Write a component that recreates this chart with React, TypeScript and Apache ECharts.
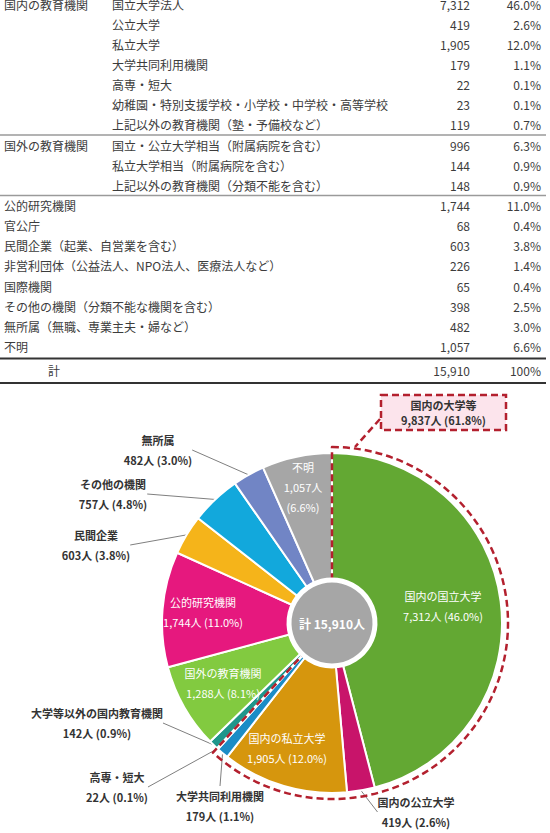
import React, { useEffect, useRef } from 'react';
import * as echarts from 'echarts';

// ---------------- data ----------------
const tableCategory = [
  '国内の教育機関', '', '', '', '', '', '',
  '国外の教育機関', '', '',
  '公的研究機関', '官公庁', '民間企業（起業、自営業を含む）',
  '非営利団体（公益法人、NPO法人、医療法人など）', '国際機関',
  'その他の機関（分類不能な機関を含む）', '無所属（無職、専業主夫・婦など）', '不明',
];
const tableSubcategory = [
  '国立大学法人', '公立大学', '私立大学', '大学共同利用機関', '高専・短大',
  '幼稚園・特別支援学校・小学校・中学校・高等学校', '上記以外の教育機関（塾・予備校など）',
  '国立・公立大学相当（附属病院を含む）', '私立大学相当（附属病院を含む）', '上記以外の教育機関（分類不能を含む）',
  '', '', '', '', '', '', '', '',
];
const tableCounts = [7312, 419, 1905, 179, 22, 23, 119, 996, 144, 148, 1744, 68, 603, 226, 65, 398, 482, 1057];
const totalRowLabel = '計';
const totalPercentLabel = '100%';

const pieNames = [
  '国内の国立大学', '国内の公立大学', '国内の私立大学', '大学共同利用機関', '高専・短大',
  '大学等以外の国内教育機関', '国外の教育機関', '公的研究機関', '民間企業', 'その他の機関', '無所属', '不明',
];
const pieValues = [7312, 419, 1905, 179, 22, 142, 1288, 1744, 603, 757, 482, 1057];
const groupName = '国内の大学等';
const groupSliceCount = 5;
const centerLabelPrefix = '計';
const unit = '人';

// ---------------- layout / style ----------------
const FONT = "'Noto Sans CJK JP', 'Noto Sans', sans-serif";
const pieColors = ['#63a833', '#c8146a', '#d6960d', '#1b8cc6', '#3b6fb3', '#1f968b', '#82ca40', '#e6187e', '#f5b41a', '#12a8dc', '#7185c5', '#a6a6a6'];
const labelInside = [true, false, true, false, false, false, true, true, false, false, false, true];
const labelStacked = [false, false, false, false, false, false, false, false, false, false, false, true];
const labelPos = [
  [443, 606], [416, 812], [287, 748], [220, 806], [117, 787], [97, 723],
  [223, 683], [203, 612], [96, 545], [113, 494], [158, 450], [303, 487],
];
const groupBreakRows = [6, 9];
const PIE_CENTER = [332, 623];
const PIE_R = 170;
const GROUP_R = 176;
const DASH_COLOR = '#b3202e';

const fmt = (v: number) => v.toLocaleString('en-US');

export default function App() {
  const ref = useRef<HTMLDivElement>(null);

  useEffect(() => {
    if (!ref.current) return;
    const chart = echarts.init(ref.current, undefined, { renderer: 'svg' });
    const total = pieValues.reduce((a, b) => a + b, 0);
    const tableTotal = tableCounts.reduce((a, b) => a + b, 0);
    const groupValue = pieValues.slice(0, groupSliceCount).reduce((a, b) => a + b, 0);
    const pct = (v: number, t: number) => ((v / t) * 100).toFixed(1) + '%';

    const rowY = (k: number) => 4 + 20.15 * k;
    const textColor = '#3c3c3c';
    const graphics: any[] = [];
    const txt = (text: string, x: number, y: number, align: string) => ({
      type: 'text', x, y, silent: true,
      style: { text, fill: textColor, fontSize: 12, fontFamily: FONT, align, verticalAlign: 'middle' },
    });
    tableCounts.forEach((c, k) => {
      const y = rowY(k);
      if (tableCategory[k]) graphics.push(txt(tableCategory[k], 4, y, 'left'));
      if (tableSubcategory[k]) graphics.push(txt(tableSubcategory[k], 112, y, 'left'));
      graphics.push(txt(fmt(c), 470, y, 'right'));
      graphics.push(txt(pct(c, tableTotal), 541, y, 'right'));
    });
    const totalY = 370;
    graphics.push(txt(totalRowLabel, 54, totalY, 'center'));
    graphics.push(txt(fmt(tableTotal), 470, totalY, 'right'));
    graphics.push(txt(totalPercentLabel, 541, totalY, 'right'));
    groupBreakRows.forEach((r) => {
      const y = (rowY(r) + rowY(r + 1)) / 2;
      graphics.push({ type: 'line', silent: true, shape: { x1: 0, y1: y, x2: 546, y2: y }, style: { stroke: '#9a9a9a', lineWidth: 1.5 } });
    });
    [358.5, 383].forEach((y) => {
      graphics.push({ type: 'line', silent: true, shape: { x1: 0, y1: y, x2: 546, y2: y }, style: { stroke: '#333', lineWidth: 1.8 } });
    });

    // callout
    graphics.push({
      type: 'line', silent: true, z: 20,
      shape: { x1: 380, y1: 419, x2: 355, y2: 447 },
      style: { stroke: DASH_COLOR, lineWidth: 2.5, lineDash: [7, 4] },
    });
    graphics.push({
      type: 'rect', silent: true, z: 20,
      shape: { x: 381, y: 395, width: 125, height: 35 },
      style: { fill: '#fce4ec', stroke: DASH_COLOR, lineWidth: 2.5, lineDash: [7, 4] },
    });
    const calloutLines = [groupName, `${fmt(groupValue)}${unit} (${pct(groupValue, total)})`];
    calloutLines.forEach((t, i) => {
      graphics.push({
        type: 'text', silent: true, z: 21, x: 443.5, y: 404.5 + i * 15.5,
        style: {
          text: t, fill: '#333', fontSize: 11, fontWeight: 'bold', fontFamily: FONT,
          align: 'center', verticalAlign: 'middle', lineHeight: 13,
        },
      });
    });

    const mainData = pieValues.map((v, i) => ({
      name: pieNames[i],
      value: v,
      itemStyle: { color: pieColors[i] },
      label: labelInside[i]
        ? { position: 'inside', color: '#fff', fontWeight: 'normal' }
        : { position: 'outside', color: '#333', fontWeight: 'bold' },
      labelLine: { show: !labelInside[i] },
    }));

    chart.setOption({
      animation: false,
      backgroundColor: '#fff',
      textStyle: { fontFamily: FONT },
      graphic: graphics,
      series: [
        {
          type: 'pie',
          center: PIE_CENTER,
          radius: [0, PIE_R],
          startAngle: 90,
          clockwise: true,
          avoidLabelOverlap: false,
          silent: true,
          itemStyle: { borderColor: '#fff', borderWidth: 2 },
          label: {
            show: true,
            fontSize: 11,
            fontFamily: FONT,
            lineHeight: 20,
            formatter: (p: any) => {
              const v = `${fmt(p.value)}${unit}`;
              const pc = `(${pct(p.value, total)})`;
              return labelStacked[p.dataIndex] ? `${p.name}\n${v}\n${pc}` : `${p.name}\n${v} ${pc}`;
            },
          },
          labelLine: { length: 5, length2: 0, lineStyle: { color: '#7f7f7f', width: 1 } },
          labelLayout: (params: any) => ({
            x: labelPos[params.dataIndex][0],
            y: labelPos[params.dataIndex][1],
            align: 'center',
            verticalAlign: 'middle',
          }),
          data: mainData,
          z: 2,
        },
        {
          type: 'pie',
          center: PIE_CENTER,
          radius: [0, GROUP_R],
          startAngle: 90,
          clockwise: true,
          silent: true,
          label: { show: false },
          labelLine: { show: false },
          data: [
            {
              name: groupName,
              value: groupValue,
              itemStyle: { color: 'rgba(0,0,0,0)', borderColor: DASH_COLOR, borderWidth: 2.5, borderType: [7, 4] },
            },
            {
              name: 'rest',
              value: total - groupValue,
              itemStyle: { color: 'rgba(0,0,0,0)', borderWidth: 0 },
            },
          ],
          z: 3,
        },
        {
          type: 'pie',
          center: PIE_CENTER,
          radius: [0, 43],
          silent: true,
          itemStyle: { color: '#a6a6a6', borderColor: '#fff', borderWidth: 5 },
          label: {
            show: true,
            position: 'center',
            color: '#fff',
            fontWeight: 'bold',
            fontSize: 12,
            fontFamily: FONT,
            formatter: () => `${centerLabelPrefix} ${fmt(total)}${unit}`,
          },
          labelLine: { show: false },
          data: [{ name: 'total', value: total }],
          z: 4,
        },
      ],
    });
    return () => chart.dispose();
  }, []);

  return (
    <div
      ref={ref}
      style={{ position: 'fixed', left: 0, top: 0, width: 550, height: 833, background: '#fff' }}
    />
  );
}
